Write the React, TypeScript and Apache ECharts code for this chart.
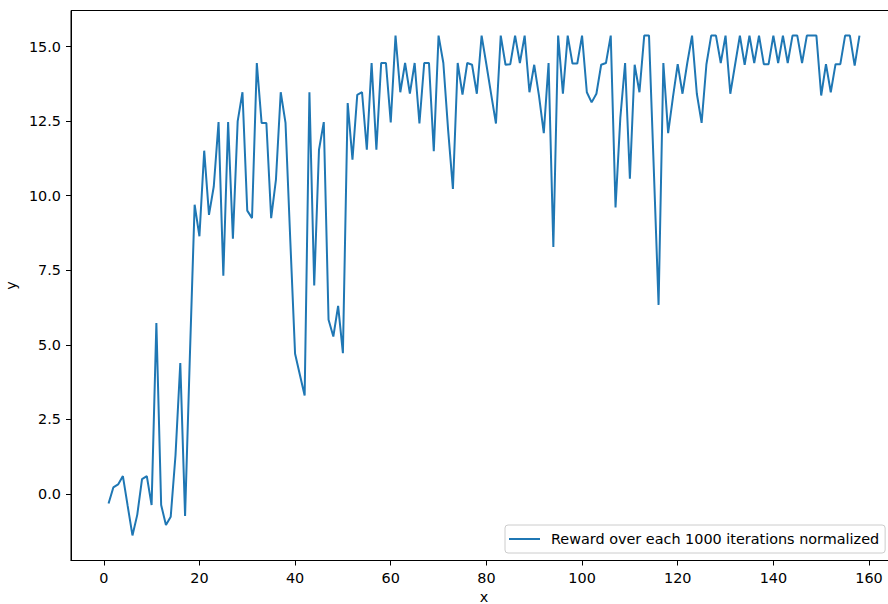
import React, { useEffect, useRef } from "react";
import * as echarts from "echarts";

// Reward per 1000 iterations (episodes 1..158)
const rewards: number[] = [
  -0.32, 0.22, 0.32, 0.6, -0.4, -1.39, -0.7, 0.5, 0.6, -0.37,
  5.73, -0.37, -1.04, -0.76, 1.3, 4.39, -0.74, 4.6, 9.7, 8.64,
  11.51, 9.36, 10.31, 12.47, 7.32, 12.47, 8.56, 12.5, 13.47, 9.5,
  9.25, 14.45, 12.44, 12.44, 9.25, 10.54, 13.47, 12.44, 8.5, 4.7,
  4.0, 3.3, 13.47, 6.99, 11.54, 12.47, 5.84, 5.28, 6.31, 4.72,
  13.11, 11.21, 13.38, 13.47, 11.54, 14.45, 11.54, 14.45, 14.45, 12.46,
  15.37, 13.47, 14.45, 13.42, 14.45, 12.42, 14.45, 14.45, 11.49, 15.37,
  14.45, 12.2, 10.23, 14.45, 13.39, 14.45, 14.39, 13.42, 15.37, 14.4,
  13.4, 12.42, 15.37, 14.39, 14.41, 15.37, 14.45, 15.37, 13.47, 14.39,
  13.35, 12.1, 14.45, 8.28, 15.37, 13.42, 15.37, 14.43, 14.43, 15.37,
  13.47, 13.13, 13.42, 14.39, 14.45, 15.37, 9.61, 12.6, 14.45, 10.57,
  14.39, 13.47, 15.37, 15.37, 10.9, 6.34, 14.45, 12.1, 13.3, 14.41,
  13.42, 14.45, 15.37, 13.42, 12.44, 14.4, 15.37, 15.37, 14.45, 15.37,
  13.42, 14.4, 15.37, 14.39, 15.37, 14.45, 15.37, 14.41, 14.41, 15.37,
  14.45, 15.37, 14.45, 15.37, 15.37, 14.45, 15.37, 15.37, 15.37, 13.36,
  14.41, 13.47, 14.41, 14.41, 15.37, 15.37, 14.36, 15.37,
];

const xTicks: number[] = [0, 20, 40, 60, 80, 100, 120, 140, 160];
const yTicks: number[] = [0, 2.5, 5, 7.5, 10, 12.5, 15];
const seriesName = "Reward over each 1000 iterations normalized";
const xName = "x";
const yName = "y";

const FONT = "DejaVu Sans";

export default function App() {
  const ref = useRef<HTMLDivElement>(null);

  useEffect(() => {
    if (!ref.current) return;
    const chart = echarts.init(ref.current, undefined, { renderer: "svg" });
    const data = rewards.map((v, i) => [i + 1, v]);
    chart.setOption({
      animation: false,
      backgroundColor: "#ffffff",
      grid: {
        left: 71,
        top: 10.5,
        width: 826,
        height: 550,
        outerBoundsMode: "none",
        containLabel: false,
        show: true,
        borderColor: "#000",
        borderWidth: 1,
        backgroundColor: "transparent",
      },
      xAxis: {
        type: "value",
        min: -6.85,
        max: 165.85,
        name: xName,
        nameLocation: "middle",
        nameGap: 29,
        nameTextStyle: { fontFamily: FONT, fontSize: 14.4, color: "#000" },
        splitLine: { show: false },
        axisLine: { show: true, onZero: false, lineStyle: { color: "#000", width: 1 } },
        axisTick: {
          show: true,
          length: 5,
          lineStyle: { color: "#000", width: 1 },
          customValues: xTicks,
        },
        axisLabel: {
          customValues: xTicks,
          margin: 10,
          fontFamily: FONT,
          fontSize: 14.4,
          color: "#000",
          formatter: (v: number) => String(v),
        },
      },
      yAxis: {
        type: "value",
        min: -2.23,
        max: 16.21,
        name: yName,
        nameLocation: "middle",
        nameGap: 53,
        nameTextStyle: { fontFamily: FONT, fontSize: 14.4, color: "#000" },
        splitLine: { show: false },
        axisLine: { show: true, onZero: false, lineStyle: { color: "#000", width: 1 } },
        axisTick: {
          show: true,
          length: 5,
          lineStyle: { color: "#000", width: 1 },
          customValues: yTicks,
        },
        axisLabel: {
          customValues: yTicks,
          margin: 10,
          fontFamily: FONT,
          fontSize: 14.4,
          color: "#000",
          formatter: (v: number) => v.toFixed(1),
        },
      },
      legend: {
        show: true,
        left: 505,
        top: 525,
        padding: [7, 6, 7, 4],
        backgroundColor: "#ffffff",
        borderColor: "#cccccc",
        borderWidth: 1,
        borderRadius: 3,
        icon: "rect",
        itemWidth: 31,
        itemHeight: 2,
        textStyle: {
          fontFamily: FONT,
          fontSize: 14.4,
          color: "#000",
          padding: [0, 0, 0, 6],
        },
        data: [seriesName],
      },
      series: [
        {
          name: seriesName,
          type: "line",
          data,
          showSymbol: false,
          symbol: "none",
          color: "#1f77b4",
          lineStyle: { color: "#1f77b4", width: 2 },
        },
      ],
    });
    return () => chart.dispose();
  }, []);

  return (
    <div
      ref={ref}
      style={{ position: "absolute", left: 0, top: 0, width: 888, height: 604 }}
    />
  );
}
